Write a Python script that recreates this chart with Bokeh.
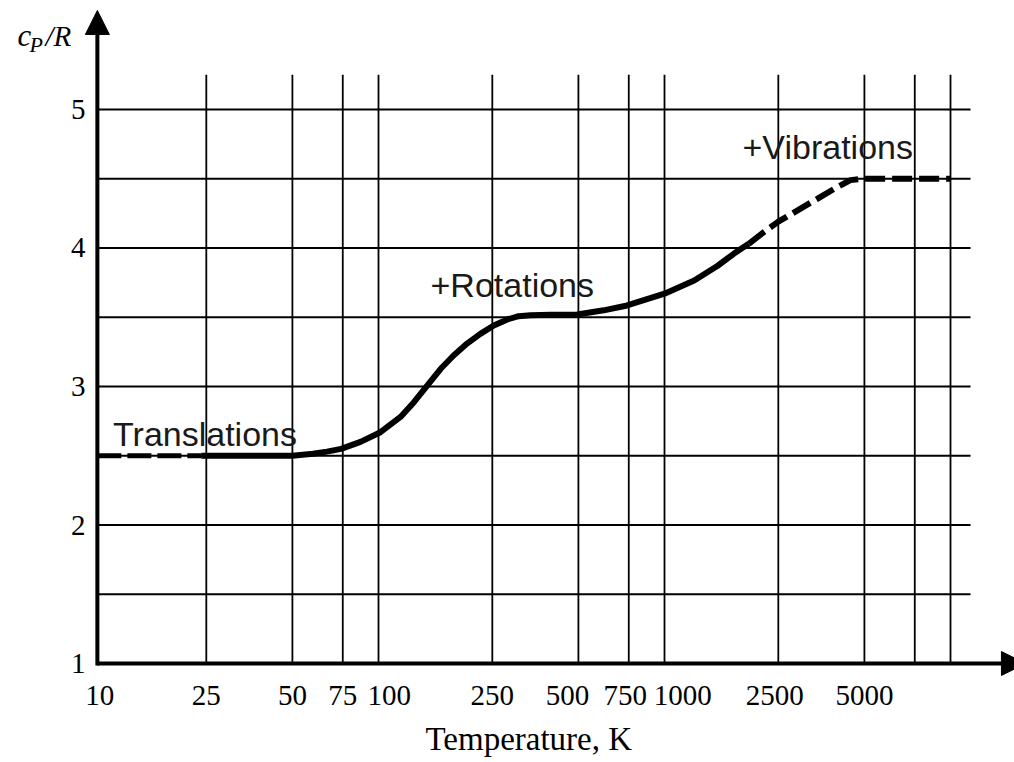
from bokeh.plotting import figure
from bokeh.models import Range1d, FixedTicker, Arrow, NormalHead, Label, Title
from bokeh.core.properties import value
from bokeh.embed import file_html
from bokeh.resources import INLINE

# ---- data ----
temps = [10.4, 15, 20, 24, 30, 40, 50,
         59, 66, 74, 86.5, 101.6, 119.4, 133, 148, 165, 183, 204, 227, 253, 282, 309, 340, 400, 495, 613, 740,
         1000, 1270, 1530, 1750, 1970, 2225, 2500, 2910, 3420, 4015, 4470, 4910, 5500, 7500, 10000]
cp_over_r = [2.5, 2.5, 2.5, 2.5, 2.5, 2.5, 2.5,
             2.515, 2.53, 2.55, 2.60, 2.67, 2.78, 2.887, 3.007, 3.128, 3.224, 3.31, 3.38, 3.44, 3.484, 3.508,
             3.515, 3.518, 3.52, 3.55, 3.585,
             3.67, 3.765, 3.87, 3.96, 4.03, 4.115, 4.19, 4.27, 4.355, 4.44, 4.49, 4.5, 4.5, 4.5, 4.5]
solid_from, solid_to = 24, 1970          # dashed below / above these temperatures

x_ticks = [10, 25, 50, 75, 100, 250, 500, 750, 1000, 2500, 5000]
x_tick_labels = ["10", "25", "50", "75", "100", "250", "500", "750", "1000", "2500", "5000"]
# label nudges (leading, trailing no-break spaces) as in the printed original
x_label_nudge = {10: (2, 0), 100: (3, 0), 500: (0, 3), 750: (0, 1), 1000: (5, 0), 2500: (0, 1)}
x_grid = [25, 50, 75, 100, 250, 500, 750, 1000, 2500, 5000, 7500, 10000]
y_ticks = [1, 2, 3, 4, 5]
y_tick_labels = ["1", "2", "3", "4", "5"]
y_grid = [1.5, 2, 2.5, 3, 3.5, 4, 4.5, 5]

axis_origin_t = 10.4
grid_x_end = 11750
grid_y_end = 5.25
y_arrow_end = 5.715
x_arrow_end = 18280
y_label_t = 9.45

annotations = [("Translations", 11.8, 2.66), ("+Rotations", 152, 3.73), ("+Vibrations", 1874, 4.726)]

# ---- figure ----
p = figure(width=1014, height=762, x_axis_type="log", y_axis_location=None,
           x_range=Range1d(4.768, 16740), y_range=Range1d(0.8917, 5.787),
           output_backend="svg", toolbar_location=None,
           min_border_left=0, min_border_right=0, min_border_top=0, min_border_bottom=84)
p.outline_line_color = None
p.xgrid.visible = False
p.ygrid.visible = False

serif = "Liberation Serif"
ax = p.xaxis[0]
ax.axis_line_color = None
ax.major_tick_line_color = None
ax.minor_tick_line_color = None
ax.major_tick_out = 0
ax.major_label_text_font = serif
ax.major_label_text_font_size = "29px"
ax.major_label_text_color = "black"
ax.major_label_standoff = 0
ax.ticker = FixedTicker(ticks=x_ticks)
overrides = {}
for t, s in zip(x_ticks, x_tick_labels):
    lead, trail = x_label_nudge.get(t, (0, 0))
    overrides[t] = "\u00a0" * lead + s + "\u00a0" * trail
ax.major_label_overrides = overrides

# y tick labels
p.text(x=[y_label_t] * len(y_ticks), y=y_ticks, text=y_tick_labels, text_font=value(serif),
       text_font_size="29px", text_align="right", text_baseline="middle", text_color="black")

# grid lines (limited extent)
p.segment(x0=x_grid, y0=[1] * len(x_grid), x1=x_grid, y1=[grid_y_end] * len(x_grid),
          line_color="black", line_width=1.8)
p.segment(x0=[axis_origin_t] * len(y_grid), y0=y_grid, x1=[grid_x_end] * len(y_grid), y1=y_grid,
          line_color="black", line_width=1.8)

# curve
lo = [(t, c) for t, c in zip(temps, cp_over_r) if t <= solid_from]
mid = [(t, c) for t, c in zip(temps, cp_over_r) if solid_from <= t <= solid_to]
hi = [(t, c) for t, c in zip(temps, cp_over_r) if t >= solid_to]
p.line([a for a, _ in lo], [b for _, b in lo], line_color="black", line_width=5, line_dash="24 6")
p.line([a for a, _ in mid], [b for _, b in mid], line_color="black", line_width=6, line_join="round")
p.line([a for a, _ in hi], [b for _, b in hi], line_color="black", line_width=6, line_dash="20 7")

# axes arrows
p.add_layout(Arrow(x_start=axis_origin_t, y_start=0.985, x_end=axis_origin_t, y_end=y_arrow_end,
                   line_width=4, line_color="black",
                   end=NormalHead(size=24, fill_color="black", line_color="black")))
p.add_layout(Arrow(x_start=axis_origin_t, y_start=1, x_end=x_arrow_end, y_end=1,
                   line_width=4, line_color="black",
                   end=NormalHead(size=24, fill_color="black", line_color="black")))

# annotation texts
for txt, tx, ty in annotations:
    p.add_layout(Label(x=tx, y=ty, text=txt, text_font="Liberation Sans", text_font_size="34px",
                       text_color="#1a1a1a", text_baseline="alphabetic", text_align="left"))

# y axis title c_P/R
p.add_layout(Label(x=5.47, y=5.534, text="c", text_font=serif, text_font_style="italic",
                   text_font_size="31px", text_baseline="alphabetic", text_color="black"))
p.add_layout(Label(x=6.02, y=5.470, text="P", text_font=serif, text_font_style="italic",
                   text_font_size="22px", text_baseline="alphabetic", text_color="black"))
p.add_layout(Label(x=6.85, y=5.534, text="/R", text_font=serif, text_font_style="italic",
                   text_font_size="29px", text_baseline="alphabetic", text_color="black"))

# x axis title
p.add_layout(Title(text="Temperature, K", text_font=serif, text_font_size="33px",
                   text_font_style="normal", text_color="black", align="left", offset=425,
                   standoff=10), "below")

open("out.html", "w").write(file_html(p, INLINE))
